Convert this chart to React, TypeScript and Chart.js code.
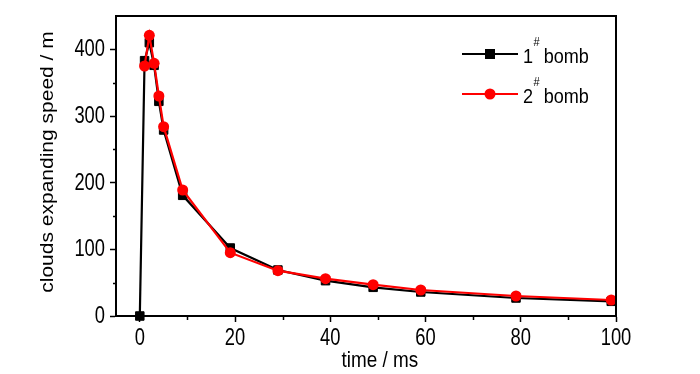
import React, { useEffect, useRef } from "react";
import { Chart, registerables } from "chart.js";

Chart.register(...registerables);

// ---- data ----
const bomb1Time = [0, 1, 2, 3, 4, 5, 9, 19, 29, 39, 49, 59, 79, 99];
const bomb1Speed = [0, 383, 410, 376, 322, 279, 181, 102, 69, 53, 43, 36, 27, 22];
const bomb2Time = [1, 2, 3, 4, 5, 9, 19, 29, 39, 49, 59, 79, 99];
const bomb2Speed = [375, 421, 379, 330, 284, 189, 95, 68, 56, 47, 39, 30, 24];

const seriesNumbers = ["1", "2"];
const seriesSup = "#";
const seriesWord = "bomb";

const xMajorTicks = [0, 20, 40, 60, 80, 100];
const xMinorTicks = [10, 30, 50, 70, 90];
const yMajorTicks = [0, 100, 200, 300, 400];
const yMinorTicks = [50, 150, 250, 350];

const xTitle = "time / ms";
const yTitle = "clouds expanding speed / m";

const FONT = '"Liberation Sans", Arial, sans-serif';

function drawText(
  ctx: CanvasRenderingContext2D,
  text: string,
  x: number,
  y: number,
  size: number,
  sx: number,
  align: CanvasTextAlign
) {
  ctx.save();
  ctx.translate(x, y);
  ctx.scale(sx, 1);
  ctx.font = `${size}px ${FONT}`;
  ctx.textAlign = align;
  ctx.textBaseline = "alphabetic";
  ctx.fillStyle = "#000";
  ctx.fillText(text, 0, 0);
  ctx.restore();
}

function textWidth(ctx: CanvasRenderingContext2D, text: string, size: number, sx: number) {
  ctx.save();
  ctx.font = `${size}px ${FONT}`;
  const w = ctx.measureText(text).width * sx;
  ctx.restore();
  return w;
}

const framePlugin = {
  id: "frameAndText",
  afterDraw(chart: any) {
    const ctx: CanvasRenderingContext2D = chart.ctx;
    const { left, right, top, bottom } = chart.chartArea;
    const xs = chart.scales.x;
    const ys = chart.scales.y;
    ctx.save();
    ctx.strokeStyle = "#000";
    ctx.lineWidth = 2;
    ctx.beginPath();
    ctx.moveTo(left - 1, top);
    ctx.lineTo(right, top);
    ctx.lineTo(right, bottom + 1);
    ctx.stroke();
    ctx.lineWidth = 1.5;
    ctx.beginPath();
    for (const v of xMinorTicks) {
      const px = Math.round(xs.getPixelForValue(v)) + 0.5;
      ctx.moveTo(px, bottom);
      ctx.lineTo(px, bottom + 4);
    }
    for (const v of yMinorTicks) {
      const py = Math.round(ys.getPixelForValue(v)) + 0.5;
      ctx.moveTo(left, py);
      ctx.lineTo(left - 3, py);
    }
    ctx.stroke();
    ctx.restore();

    // tick labels
    for (const v of xMajorTicks) {
      drawText(ctx, String(v), xs.getPixelForValue(v), bottom + 29, 23.5, 0.78, "center");
    }
    for (const v of yMajorTicks) {
      drawText(ctx, String(v), left - 11, ys.getPixelForValue(v) + 7, 23.5, 0.78, "right");
    }
    // axis titles
    const xMid = (xs.getPixelForValue(0) + xs.getPixelForValue(100)) / 2;
    drawText(ctx, xTitle, xMid + 2, bottom + 51, 22.5, 0.84, "center");
    ctx.save();
    ctx.translate(53, (top + bottom) / 2 - 4);
    ctx.scale(0.85, 1);
    ctx.rotate(-Math.PI / 2);
    ctx.font = `21px ${FONT}`;
    ctx.textAlign = "center";
    ctx.textBaseline = "alphabetic";
    ctx.fillStyle = "#000";
    ctx.fillText(yTitle, 0, 0);
    ctx.restore();
  },
};

const legendPlugin = {
  id: "customLegend",
  afterDraw(chart: any) {
    const ctx: CanvasRenderingContext2D = chart.ctx;
    const { right, top } = chart.chartArea;
    const lineX0 = right - 154;
    const lineX1 = right - 98;
    const textX = right - 93;
    const rows = [
      { y: top + 38, color: "#000", style: "rect" },
      { y: top + 78, color: "#ff0000", style: "circle" },
    ];
    ctx.save();
    rows.forEach((r, i) => {
      ctx.strokeStyle = r.color;
      ctx.fillStyle = r.color;
      ctx.lineWidth = 2;
      ctx.beginPath();
      ctx.moveTo(lineX0, r.y);
      ctx.lineTo(lineX1, r.y);
      ctx.stroke();
      const cx = (lineX0 + lineX1) / 2;
      if (r.style === "rect") {
        ctx.fillRect(cx - 5, r.y - 5, 10, 10);
      } else {
        ctx.beginPath();
        ctx.arc(cx, r.y, 5.5, 0, Math.PI * 2);
        ctx.fill();
      }
      const base = r.y + 9;
      const sx = 0.86;
      drawText(ctx, seriesNumbers[i], textX, base, 21, sx, "left");
      const w1 = textWidth(ctx, seriesNumbers[i], 21, sx);
      drawText(ctx, seriesSup, textX + w1 + 0.5, base - 17, 13, 0.85, "left");
      const w2 = textWidth(ctx, seriesSup, 13, 0.85);
      drawText(ctx, seriesWord, textX + w1 + w2 + 4.5, base, 21, sx, "left");
    });
    ctx.restore();
  },
};

export default function App() {
  const ref = useRef<HTMLCanvasElement>(null);
  useEffect(() => {
    if (!ref.current) return;
    const chart = new Chart(ref.current, {
      type: "line",
      data: {
        datasets: [
          {
            label: "1# bomb",
            data: bomb1Time.map((t, i) => ({ x: t, y: bomb1Speed[i] })),
            borderColor: "#000",
            backgroundColor: "#000",
            borderWidth: 2.2,
            pointStyle: "rect",
            pointRadius: 6,
            pointBorderWidth: 1,
            pointBorderColor: "#000",
            pointBackgroundColor: "#000",
            tension: 0,
            clip: false,
            order: 2,
          },
          {
            label: "2# bomb",
            data: bomb2Time.map((t, i) => ({ x: t, y: bomb2Speed[i] })),
            borderColor: "#ff0000",
            backgroundColor: "#ff0000",
            borderWidth: 2.2,
            pointStyle: "circle",
            pointRadius: 5.5,
            pointBorderWidth: 0,
            pointBackgroundColor: "#ff0000",
            tension: 0,
            clip: false,
            order: 1,
          },
        ],
      },
      options: {
        responsive: false,
        animation: false,
        layout: { padding: { top: 16, right: 84, bottom: 0, left: 0 } },
        plugins: { legend: { display: false }, tooltip: { enabled: false } },
        scales: {
          x: {
            type: "linear",
            min: -5,
            max: 100,
            afterBuildTicks: (s: any) => {
              s.ticks = xMajorTicks.map((v) => ({ value: v }));
            },
            afterFit: (s: any) => {
              s.height = 58;
            },
            grid: {
              drawOnChartArea: false,
              drawTicks: true,
              tickLength: 6,
              tickWidth: 1.5,
              tickColor: "#000",
            },
            border: { display: true, color: "#000", width: 2 },
            ticks: { display: false },
            title: { display: false },
          },
          y: {
            type: "linear",
            min: 0,
            max: 450,
            afterBuildTicks: (s: any) => {
              s.ticks = yMajorTicks.map((v) => ({ value: v }));
            },
            afterFit: (s: any) => {
              s.width = 116;
            },
            grid: {
              drawOnChartArea: false,
              drawTicks: true,
              tickLength: 6,
              tickWidth: 1.5,
              tickColor: "#000",
            },
            border: { display: true, color: "#000", width: 2 },
            ticks: { display: false },
            title: { display: false },
          },
        },
      },
      plugins: [framePlugin, legendPlugin],
    } as any);
    return () => chart.destroy();
  }, []);
  return (
    <div style={{ position: "fixed", left: 0, top: 0, width: 700, height: 374, background: "#fff" }}>
      <canvas ref={ref} width={700} height={374} style={{ width: 700, height: 374, display: "block" }} />
    </div>
  );
}
